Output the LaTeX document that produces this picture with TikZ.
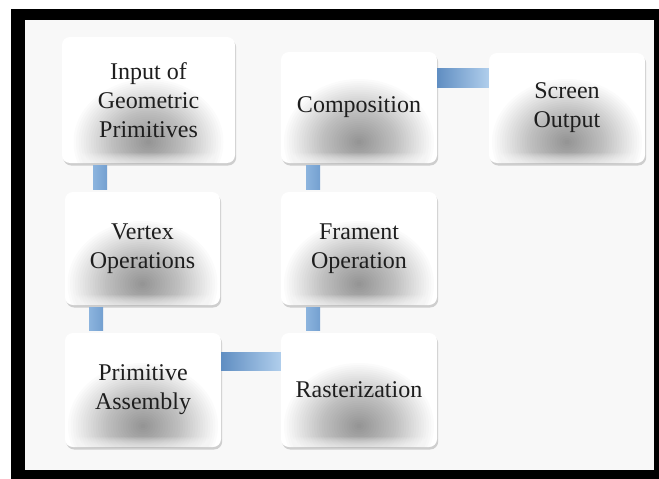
\documentclass[tikz,border=0pt]{standalone}
\usepackage{fontspec}
\setmainfont{Liberation Serif}
\usetikzlibrary{calc,shadows}
\definecolor{txt}{HTML}{1E1E1E}
\definecolor{bg}{HTML}{F8F8F8}
\definecolor{vbarL}{RGB}{140,180,222}
\definecolor{vbarR}{RGB}{116,160,208}
\definecolor{hbarL}{RGB}{96,142,194}
\definecolor{hbarR}{RGB}{176,206,236}
\begin{document}
\begin{tikzpicture}[x=1pt,y=-1pt,
  stage/.style={fill=white, rounded corners=8pt, align=center, inner sep=0pt,
    font=\fontsize{24}{29}\selectfont, text=txt,
    drop shadow={shadow xshift=1.2pt, shadow yshift=-2.5pt, opacity=0.35},
    path picture={
      \coordinate (blobc) at ($(path picture bounding box.south)+(0,-21)$);
      \foreach \i in {1,...,30}{
        \fill[black, opacity=0.015] (blobc) ellipse ({2.5*\i pt} and {2.1*\i pt});
      }
      \foreach \j in {1,...,10}{
        \fill[white, opacity=0.09]
          ($(path picture bounding box.south west)+(0,-\j)$) rectangle (path picture bounding box.south east);
      }
    }},
  vbar/.style={left color=vbarL, right color=vbarR},
  hbar/.style={left color=hbarL, right color=hbarR}]
% page and frame
\useasboundingbox (0,0) rectangle (659,479);
\fill[white] (0,0) rectangle (659,479);
\fill[black, even odd rule] (11,9) rectangle (659,479) (25,20) rectangle (654,470);
\fill[bg] (25,20) rectangle (654,470);
% stages
\node[stage, minimum width=173pt, minimum height=126pt] (inp) at (148.5,100) {Input of\\Geometric\\Primitives};
\node[stage, minimum width=156pt, minimum height=111pt] (comp) at (359,107.5) {Composition};
\node[stage, minimum width=156pt, minimum height=110pt] (scr) at (567,108) {Screen\\Output};
\node[stage, minimum width=155pt, minimum height=113pt] (vert) at (142.5,248.5) {Vertex\\Operations};
\node[stage, minimum width=156pt, minimum height=113pt] (fram) at (359,248.5) {Frament\\Operation};
\node[stage, minimum width=156pt, minimum height=114pt] (prim) at (143,390) {Primitive\\Assembly};
\node[stage, minimum width=156pt, minimum height=114pt] (rast) at (359,390) {Rasterization};
% connector positions
\coordinate (xa) at (100,0);
\coordinate (xb) at (313,0);
\coordinate (xc) at (96,0);
\coordinate (ya) at (0,77.5);
\coordinate (yb) at (0,361);
% connectors
\shade[vbar] ($(inp.south -| xa)+(-7,2)$) rectangle ($(vert.north -| xa)+(7,-2)$);
\shade[vbar] ($(comp.south -| xb)+(-7,2)$) rectangle ($(fram.north -| xb)+(7,-2)$);
\shade[vbar] ($(vert.south -| xc)+(-7,2)$) rectangle ($(prim.north -| xc)+(7,-2)$);
\shade[vbar] ($(fram.south -| xb)+(-7,2)$) rectangle ($(rast.north -| xb)+(7,-2)$);
\shade[hbar] ($(comp.east |- ya)+(0,-9.5)$) rectangle ($(scr.west |- ya)+(0,9.5)$);
\shade[hbar] ($(prim.east |- yb)+(0,-9)$) rectangle ($(rast.west |- yb)+(0,9)$);
\end{tikzpicture}
\end{document}
